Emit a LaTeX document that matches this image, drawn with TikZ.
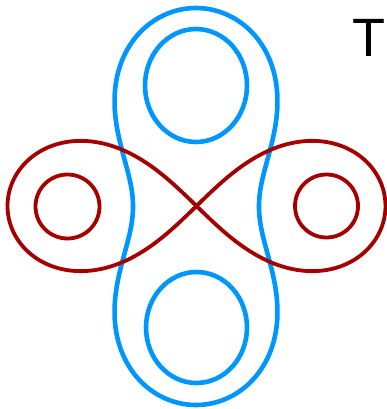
\documentclass[tikz,border=0pt]{standalone}
\usepackage{fontspec}
\setmainfont{Liberation Sans}
\definecolor{cblue}{RGB}{0,150,255}
\definecolor{cred}{RGB}{165,0,0}
\begin{document}
\begin{tikzpicture}[x=1pt,y=-1pt,
  bluecurve/.style={draw=cblue,line width=4.6pt,line join=round},
  redcurve/.style={draw=cred,line width=3.8pt,line join=round},
  label/.style={font=\fontsize{54}{60}\selectfont,inner sep=0pt,anchor=base}]
\useasboundingbox (0,0) rectangle (387,409);
% outer blue Cassini oval (vertical), units of 100px
\def\cc{1.7717}
\def\dd{1.5637}
\draw[bluecurve,shift={(196,206.5)}] plot[domain=0:360,samples=240,smooth cycle]
  ({100*sqrt(-\cc*cos(2*\x)+sqrt(\cc*\cc*cos(2*\x)*cos(2*\x)+\dd))*cos(\x)},
   {100*sqrt(-\cc*cos(2*\x)+sqrt(\cc*\cc*cos(2*\x)*cos(2*\x)+\dd))*sin(\x)});
% inner blue ovals
\draw[bluecurve] (196,85.5) ellipse [x radius=51, y radius=56.5];
\draw[bluecurve] (196.5,327.5) ellipse [x radius=50.5, y radius=55.5];
% red lemniscate
\draw[redcurve,shift={(196.5,206)}] plot[domain=0:360,samples=240,smooth cycle]
  ({189*cos(\x)/(1+sin(\x)*sin(\x))},{0.975*189*sin(\x)*cos(\x)/(1+sin(\x)*sin(\x))});
% inner red circles
\draw[redcurve] (67.5,206.5) circle [radius=32];
\draw[redcurve] (326.5,206) circle [radius=31.5];
\node[label] (t) at (369,57) {T};
\end{tikzpicture}
\end{document}
